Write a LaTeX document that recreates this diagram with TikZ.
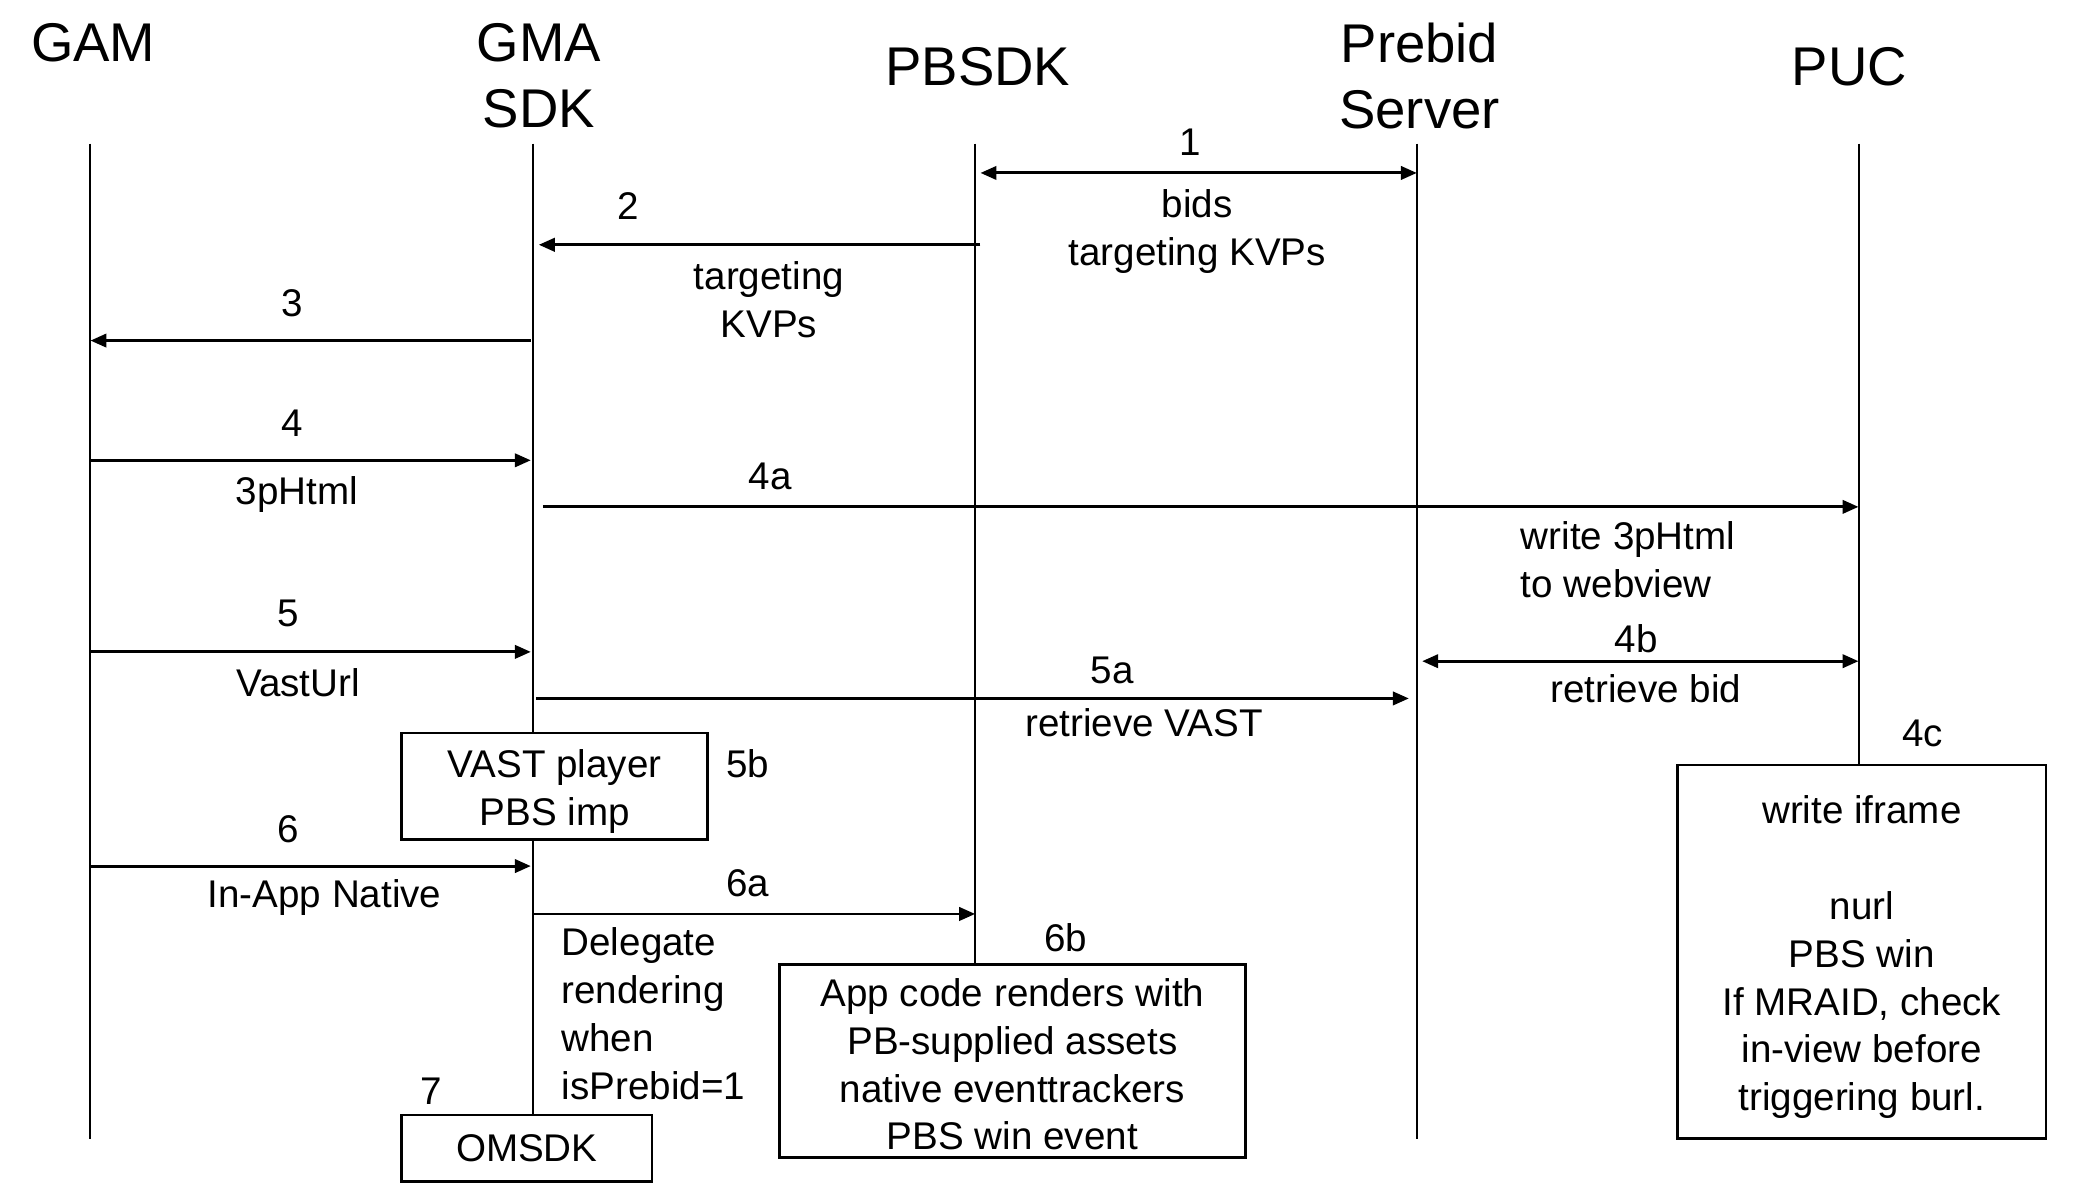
\documentclass[tikz,border=0pt]{standalone}
\usepackage{fontspec}
\setmainfont{Liberation Sans}
\usetikzlibrary{arrows.meta}
\begin{document}
\begin{tikzpicture}[x=1pt,y=-1pt,
  title/.style={font=\fontsize{41}{50}\selectfont, align=center, inner sep=0pt},
  lbl/.style={font=\fontsize{29}{36}\selectfont, inner sep=0pt, align=center},
  life/.style={line width=1.5pt},
  msg/.style={line width=2.2pt, -{Triangle[length=12pt,width=10pt]}},
  msgb/.style={line width=2.2pt, {Triangle[length=12pt,width=10pt]}-{Triangle[length=12pt,width=10pt]}},
  boxn/.style={draw, line width=2pt, fill=white, inner sep=0pt}
]
\useasboundingbox (0,0) rectangle (1568,899);
\fill[white] (0,0) rectangle (1568,899);

% titles
\node[title] (tgam) at (70,32) {GAM};
\node[title] (tgma) at (405,57) {GMA\\SDK};
\node[title] (tpbsdk) at (735,50) {PBSDK};
\node[title] (tpbs) at (1067,57) {Prebid\\Server};
\node[title] (tpuc) at (1390,50) {PUC};

% lifeline ends
\coordinate (gamT) at (68,108);  \coordinate (gamB) at (68,856);
\coordinate (gmaT) at (401,108);
\coordinate (pbsdkT) at (733,108);
\coordinate (pbsT) at (1065,108); \coordinate (pbsB) at (1065,856);
\coordinate (pucT) at (1397,108);

% boxes
\node[boxn, minimum width=230pt, minimum height=80pt] (vast) at (417,591) {};
\node[boxn, minimum width=188pt, minimum height=50pt] (omsdk) at (396,863) {};
\node[boxn, minimum width=350pt, minimum height=145pt] (app) at (761,797.5) {};
\node[boxn, minimum width=277pt, minimum height=281pt] (iframe) at (1399.5,715.5) {};

\node[lbl, yshift=-4pt] (vastt) at (vast.center) {VAST player\\PBS imp};
\node[lbl] (omsdkt) at (omsdk.center) {OMSDK};
\node[lbl, yshift=-2.5pt] (appt) at (app.center) {App code renders with\\PB-supplied assets\\native eventtrackers\\PBS win event};
\node[lbl, yshift=-4pt] (iframet) at (iframe.center) {write iframe\\ ~ \\nurl\\PBS win\\If MRAID, check\\in-view before\\triggering burl.};

% lifelines
\draw[life] (gamT) -- (gamB);
\draw[life] (gmaT) -- (gmaT |- vast.north);
\draw[life] (gmaT |- vast.south) -- (gmaT |- omsdk.north);
\draw[life] (pbsdkT) -- (pbsdkT |- app.north);
\draw[life] (pbsT) -- (pbsB);
\draw[life] (pucT) -- (pucT |- iframe.north);

% message end points
\coordinate (m1a) at (737,130);  \coordinate (m1b) at (1065,130);
\coordinate (m2a) at (737,184);  \coordinate (m2b) at (405,184);
\coordinate (m3a) at (399,256);  \coordinate (m3b) at (68,256);
\coordinate (m4a) at (68,346);   \coordinate (m4b) at (399,346);
\coordinate (m4aa) at (408,381); \coordinate (m4ab) at (1397,381);
\coordinate (m5a) at (68,490);   \coordinate (m5b) at (399,490);
\coordinate (m4ba) at (1069,497); \coordinate (m4bb) at (1397,497);
\coordinate (m5aa) at (403,525); \coordinate (m5ab) at (1059,525);
\coordinate (m6a) at (68,651);   \coordinate (m6b) at (399,651);
\coordinate (m6aa) at (401,687); \coordinate (m6ab) at (733,687);

% messages
\draw[msgb] (m1a) -- (m1b);
\draw[msg] (m2a) -- (m2b);
\draw[msg] (m3a) -- (m3b);
\draw[msg] (m4a) -- (m4b);
\draw[msg] (m4aa) -- (m4ab);
\draw[msg] (m5a) -- (m5b);
\draw[msgb] (m4ba) -- (m4bb);
\draw[msg] (m5aa) -- (m5ab);
\draw[msg] (m6a) -- (m6b);
\draw[msg] (m6aa) -- (m6ab);

% labels
\node[lbl] (l1) at (895,107) {1};
\node[lbl] (l1t) at (900,174) {bids\\targeting KVPs};
\node[lbl] (l2) at (472,155) {2};
\node[lbl] (l2t) at (578,225.5) {targeting\\KVPs};
\node[lbl] (l3) at (220,228) {3};
\node[lbl] (l4) at (220,318) {4};
\node[lbl] (l4t) at (223,372) {3pHtml};
\node[lbl] (l4a) at (579,358) {4a};
\node[lbl, align=left, anchor=west] (l4at) at (1143,420.5) {write 3pHtml\\to webview};
\node[lbl] (l5) at (217,461) {5};
\node[lbl] (l5t) at (224,513) {VastUrl};
\node[lbl] (l4b) at (1230,480) {4b};
\node[lbl] (l4bt) at (1237,518) {retrieve bid};
\node[lbl] (l5a) at (836,504) {5a};
\node[lbl] (l5at) at (860,543) {retrieve VAST};
\node[lbl] (l4c) at (1445,551) {4c};
\node[lbl] (l5b) at (562,574) {5b};
\node[lbl] (l6) at (217,623) {6};
\node[lbl] (l6t) at (244,675) {In-App Native};
\node[lbl] (l6a) at (562,664) {6a};
\node[lbl, align=left, anchor=west] (l6at) at (422,762) {Delegate\\rendering\\when\\isPrebid=1};
\node[lbl] (l6b) at (801,705) {6b};
\node[lbl] (l7) at (324,820) {7};
\end{tikzpicture}
\end{document}
